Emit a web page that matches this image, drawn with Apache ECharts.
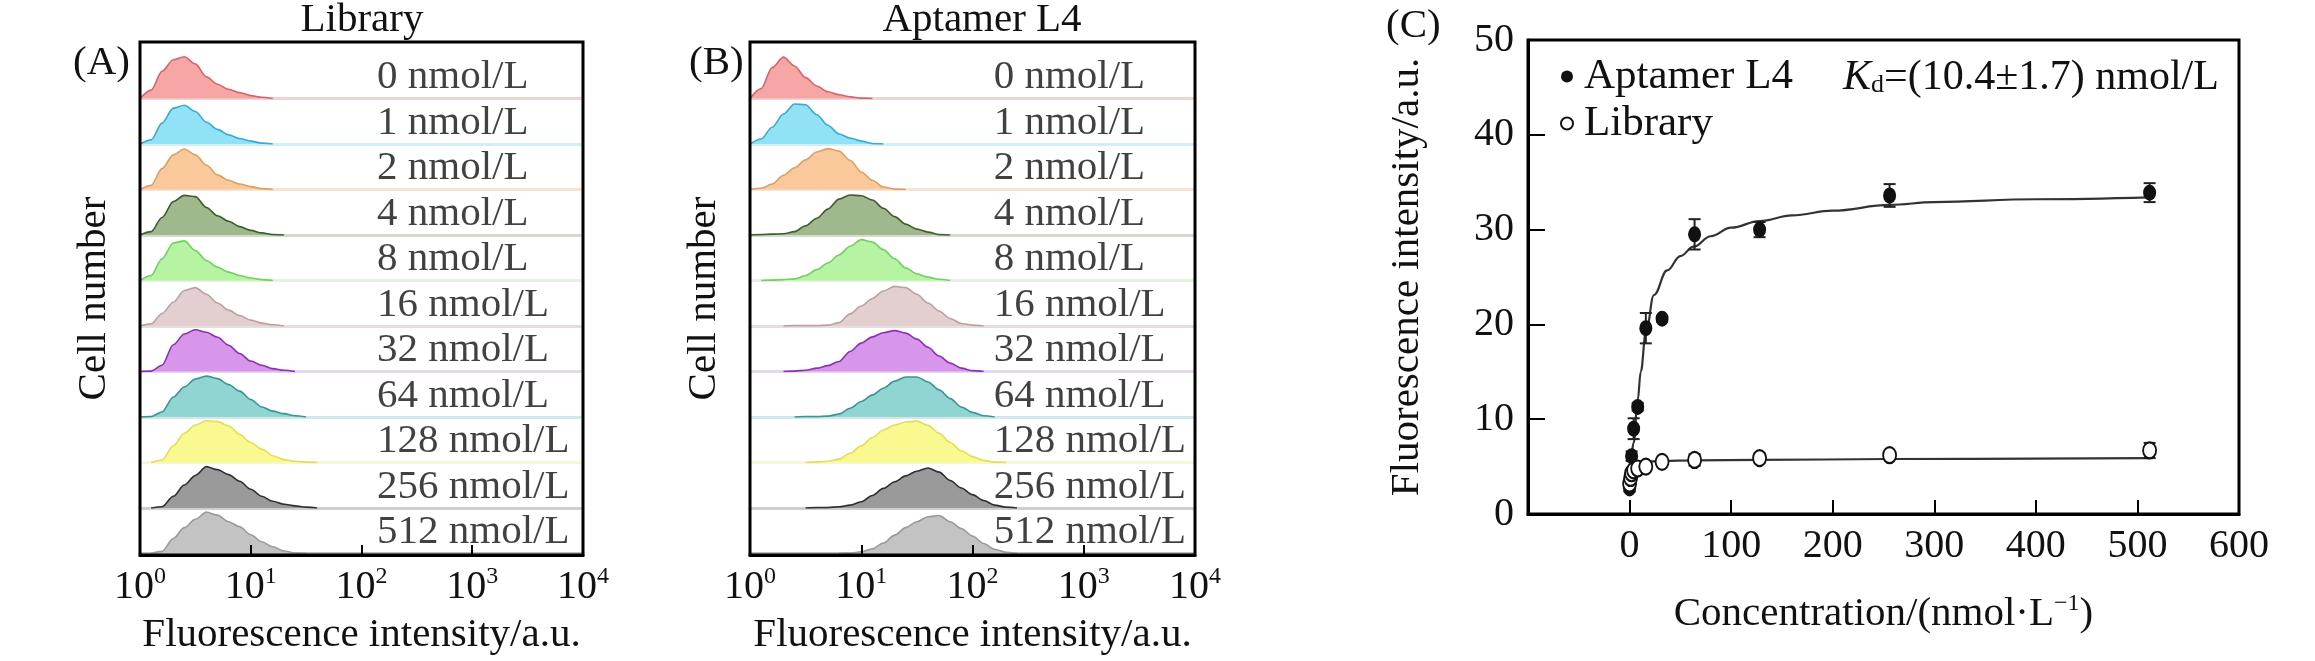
<!DOCTYPE html>
<html>
<head>
<meta charset="utf-8">
<script src="https://cdn.jsdelivr.net/npm/echarts@6/dist/echarts.min.js"></script>
<style>
html,body{margin:0;padding:0;background:#fff;}
#main{width:2315px;height:661px;}
</style>
</head>
<body>
<div id="main"></div>
<script>
// concentrations shown beside each histogram row
var concLabels = ['0 nmol/L','1 nmol/L','2 nmol/L','4 nmol/L','8 nmol/L','16 nmol/L',
                  '32 nmol/L','64 nmol/L','128 nmol/L','256 nmol/L','512 nmol/L'];

// fluorescence bin centres (10^0 ... 10^2.4, 0.1 decade steps)
var fluorBins = [1, 1.26, 1.58, 2.0, 2.51, 3.16, 3.98, 5.01, 6.31, 7.94, 10, 12.6, 15.8,
                 20.0, 25.1, 31.6, 39.8, 50.1, 63.1, 79.4, 100, 126, 158, 200, 251];

// cell counts per bin (peak = 100)
var libraryHist = [
  [0,20,65,93,100,83,52,34,22,14,7,3,0,0,0,0,0,0,0,0,0,0,0,0,0],
  [0,10,50,86,93,78,52,35,22,13,7,2,0,0,0,0,0,0,0,0,0,0,0,0,0],
  [0,10,50,83,97,83,58,35,22,13,7,2,0,0,0,0,0,0,0,0,0,0,0,0,0],
  [0,8,42,80,95,92,66,46,33,20,11,5,1,0,0,0,0,0,0,0,0,0,0,0,0],
  [0,12,52,90,95,72,48,32,20,12,6,2,0,0,0,0,0,0,0,0,0,0,0,0,0],
  [0,5,30,57,85,92,76,55,38,25,14,7,3,0,0,0,0,0,0,0,0,0,0,0,0],
  [0,1,15,64,90,100,94,82,63,43,25,15,7,3,0,0,0,0,0,0,0,0,0,0,0],
  [0,1,12,48,72,91,98,92,78,62,42,24,14,8,3,0,0,0,0,0,0,0,0,0,0],
  [0,0,6,40,70,90,100,98,88,67,48,32,16,7,3,1,0,0,0,0,0,0,0,0,0],
  [0,0,3,28,55,78,99,92,80,64,45,28,16,9,5,2,0,0,0,0,0,0,0,0,0],
  [0,0,5,36,62,82,99,92,76,64,45,28,16,6,1,0,0,0,0,0,0,0,0,0,0]
];

// cell counts per bin
var aptamerHist = [
  [0,24,74,99,78,50,30,16,9,4,1,0,0,0,0,0,0,0,0,0,0,0,0,0,0],
  [0,12,40,72,96,94,70,45,24,14,7,1,0,0,0,0,0,0,0,0,0,0,0,0,0],
  [0,3,13,34,52,71,90,98,92,70,42,22,6,1,0,0,0,0,0,0,0,0,0,0,0],
  [0,1,2,3,8,22,40,62,86,96,94,84,64,44,26,14,7,1,0,0,0,0,0,0,0],
  [0,0,1,2,4,12,26,42,61,82,98,92,74,52,30,16,8,3,0,0,0,0,0,0,0],
  [0,0,0,0,1,1,1,2,8,29,48,66,84,95,92,76,55,36,18,6,2,0,0,0,0],
  [0,0,0,0,1,3,8,14,24,48,68,83,93,98,92,78,58,37,20,8,2,0,0,0,0],
  [0,0,0,0,0,1,1,2,7,21,37,53,69,86,96,96,84,65,44,24,11,3,0,0,0],
  [0,0,0,0,0,0,1,3,8,22,40,60,78,90,97,99,89,70,48,28,14,5,1,0,0],
  [0,0,0,0,0,0,1,1,3,7,15,30,47,63,77,88,96,86,66,48,32,18,7,2,0],
  [0,0,0,0,0,0,0,0,0,1,4,11,25,44,62,76,88,91,76,60,42,24,10,3,0]
];

var fillColors = ['#f7a6a6','#92e2f7','#f9c99b','#9fb98c','#b6f3a2','#e3cfcf',
                  '#d896ea','#90d5d2','#f9f98f','#9a9a9a','#c3c3c3'];
var edgeColors = ['#d2656b','#3da9cf','#dba066','#3f5d2f','#72cf61','#b9a1a1',
                  '#8a30b2','#3a9494','#e2dd5c','#2f2f2f','#9a9a9a'];
var baseColors = ['#f1d3d3','#d3eef6','#f6e4d6','#d6d9d0','#e3f3de','#e6dddd',
                  '#e7d6ec','#d1e8ea','#f6f6d8','#cfcfcf','#bdbdbd'];

// panel C: binding curve
var concC = [0, 1, 2, 4, 8, 16, 32, 64, 128, 256, 512];
var aptamerMean = [2.7, 3.9, 6.1, 9.0, 11.3, 19.6, 20.6, 29.5, 30.0, 33.6, 33.9];
var aptamerErr  = [0.3, 0.4, 0.5, 1.1, 0.4, 1.6, 0.3, 1.6, 0.8, 1.2, 1.0];
var libraryMean = [3.2, 3.8, 4.3, 4.6, 4.8, 5.0, 5.5, 5.7, 5.9, 6.2, 6.7];
var libraryErr  = [0.3, 0.3, 0.3, 0.3, 0.3, 0.4, 0.4, 0.6, 0.5, 0.4, 0.8];
var aptamerFitX = [0, 2, 4, 8, 11, 16, 24, 37, 50, 63, 80, 100, 128, 160, 200, 256, 300, 400, 512];
var aptamerFitY = [5.7, 6.5, 7.5, 12.0, 15.0, 19.1, 23.1, 25.7, 27.2, 28.2, 29.3, 30.2, 30.9, 31.5, 32.0, 32.6, 32.9, 33.2, 33.4];
var libraryFitX = [0, 4, 8, 16, 32, 64, 128, 256, 512];
var libraryFitY = [4.2, 5.0, 5.3, 5.5, 5.6, 5.65, 5.7, 5.8, 5.9];

(function(){
    var chart = echarts.init(document.getElementById('main'));
    var FONT = 'Liberation Serif';
    var INK = '#111';

    var grids = [], xAxes = [], yAxes = [], series = [];

    function supLabel(v) {
        return '{b|10}{s|' + Math.round(Math.log10(v)) + '}';
    }

    function addHistPanel(left, width, hist, labelX) {
        var fi = grids.length;
        grids.push({left: left, top: 42, width: width, height: 513,
                    show: true, borderColor: '#000', borderWidth: 3, backgroundColor: 'transparent', z: 4});
        xAxes.push({
            gridIndex: fi, type: 'log', min: 1, max: 10000, z: 6,
            axisLine: {lineStyle: {color: '#000', width: 3}},
            axisTick: {inside: true, length: 10, lineStyle: {color: '#000', width: 2}},
            axisLabel: {margin: 10, formatter: supLabel, rich: {
                b: {fontSize: 40, fontFamily: FONT, color: INK},
                s: {fontSize: 24, fontFamily: FONT, color: INK, padding: [0, 0, 20, 0]}
            }},
            splitLine: {show: false},
            name: 'Fluorescence intensity/a.u.', nameLocation: 'middle', nameGap: 60,
            nameTextStyle: {fontSize: 41, fontFamily: FONT, color: INK}
        });
        yAxes.push({
            gridIndex: fi, type: 'value', min: 0, max: 1,
            axisLine: {show: false}, axisTick: {show: false}, axisLabel: {show: false}, splitLine: {show: false},
            name: 'Cell number', nameLocation: 'middle', nameGap: 25, nameRotate: 90,
            nameTextStyle: {fontSize: 41, fontFamily: FONT, color: INK}
        });

        for (var i = 0; i < hist.length; i++) {
            var gi = grids.length;
            grids.push({left: left, top: 53 + 45.5 * i, width: width, height: 45.5});
            xAxes.push({
                gridIndex: gi, type: 'log', min: 1, max: 10000,
                axisLine: {show: true, lineStyle: {color: baseColors[i], width: 3}},
                axisTick: {show: false}, axisLabel: {show: false}, splitLine: {show: false}
            });
            yAxes.push({gridIndex: gi, type: 'value', min: 0, max: 109, show: false});

            var c = hist[i], first = -1, last = -1, pts = [];
            for (var k = 0; k < c.length; k++) {
                if (c[k] > 0) { if (first < 0) first = k; last = k; }
            }
            for (k = Math.max(first - 1, 0); k <= Math.min(last + 1, c.length - 1); k++) {
                pts.push([fluorBins[k], c[k]]);
            }
            series.push({
                type: 'line', xAxisIndex: gi, yAxisIndex: gi, data: pts,
                smooth: 0.3, smoothMonotone: 'x', symbol: 'none', silent: true,
                lineStyle: {color: edgeColors[i], width: 1.6},
                areaStyle: {color: fillColors[i], opacity: 1}, z: 3
            });
            series.push({
                type: 'scatter', xAxisIndex: gi, yAxisIndex: gi, data: [[labelX, 50]],
                symbolSize: 0, silent: true, z: 5,
                label: {show: true, position: 'right', distance: 0, formatter: concLabels[i],
                        fontSize: 41, fontFamily: FONT, color: INK}
            });
        }
    }

    addHistPanel(140, 443, libraryHist, 138);
    addHistPanel(750, 445, aptamerHist, 155);

    // panel C
    var ci = grids.length;
    grids.push({left: 1528, top: 40, width: 711, height: 474,
                show: true, borderColor: '#000', borderWidth: 3, backgroundColor: 'transparent'});
    xAxes.push({
        gridIndex: ci, type: 'value', min: -100, max: 600, interval: 100,
        axisLine: {onZero: false, lineStyle: {color: '#000', width: 3}},
        axisTick: {inside: true, length: 14, lineStyle: {color: '#000', width: 2}},
        axisLabel: {margin: 12, fontSize: 40, fontFamily: FONT, color: INK,
                    formatter: function (v) { return v < 0 ? '' : v; }},
        splitLine: {show: false},
        name: '{n|Concentration/(nmol·L}{s|−1}{n|)}', nameLocation: 'middle', nameGap: 78,
        nameTextStyle: {rich: {
            n: {fontSize: 41, fontFamily: FONT, color: INK},
            s: {fontSize: 24, fontFamily: FONT, color: INK, padding: [0, 0, 20, 0]}
        }}
    });
    yAxes.push({
        gridIndex: ci, type: 'value', min: 0, max: 50, interval: 10,
        axisLine: {onZero: false, lineStyle: {color: '#000', width: 3}},
        axisTick: {inside: true, length: 17, lineStyle: {color: '#000', width: 2}},
        axisLabel: {margin: 14, fontSize: 40, fontFamily: FONT, color: INK},
        splitLine: {show: false},
        name: 'Fluorescence intensity/a.u.', nameLocation: 'middle', nameGap: 100, nameRotate: 90,
        nameTextStyle: {fontSize: 41, fontFamily: FONT, color: INK}
    });

    function zip(xs, ys) { return xs.map(function (x, k) { return [x, ys[k]]; }); }

    function errorBars(means, errs) {
        return {
            type: 'custom', xAxisIndex: ci, yAxisIndex: ci, silent: true, z: 3,
            data: concC.map(function (x, k) { return [x, means[k] - errs[k], means[k] + errs[k]]; }),
            encode: {x: 0, y: [1, 2]},
            renderItem: function (params, api) {
                var lo = api.coord([api.value(0), api.value(1)]);
                var hi = api.coord([api.value(0), api.value(2)]);
                var w = 6, st = {stroke: '#222', lineWidth: 2};
                return {type: 'group', children: [
                    {type: 'line', shape: {x1: lo[0], y1: lo[1], x2: hi[0], y2: hi[1]}, style: st},
                    {type: 'line', shape: {x1: lo[0] - w, y1: lo[1], x2: lo[0] + w, y2: lo[1]}, style: st},
                    {type: 'line', shape: {x1: hi[0] - w, y1: hi[1], x2: hi[0] + w, y2: hi[1]}, style: st}
                ]};
            }
        };
    }

    series.push({type: 'line', name: 'fitA', xAxisIndex: ci, yAxisIndex: ci, data: zip(aptamerFitX, aptamerFitY),
                 smooth: 0.4, smoothMonotone: 'x', symbol: 'none', silent: true, lineStyle: {color: '#333', width: 2.2}, z: 2});
    series.push({type: 'line', name: 'fitL', xAxisIndex: ci, yAxisIndex: ci, data: zip(libraryFitX, libraryFitY),
                 smooth: 0.4, smoothMonotone: 'x', symbol: 'none', silent: true, lineStyle: {color: '#333', width: 2.2}, z: 2});
    series.push(errorBars(aptamerMean, aptamerErr));
    series.push(errorBars(libraryMean, libraryErr));
    series.push({type: 'scatter', name: 'Aptamer L4', xAxisIndex: ci, yAxisIndex: ci, data: zip(concC, aptamerMean),
                 symbol: 'circle', symbolSize: [13, 16], itemStyle: {color: '#111', opacity: 1}, z: 4});
    series.push({type: 'scatter', name: 'Library', xAxisIndex: ci, yAxisIndex: ci, data: zip(concC, libraryMean),
                 symbol: 'emptyCircle', symbolSize: [13, 16], itemStyle: {color: '#111', borderWidth: 2.5, opacity: 1}, z: 5});

    var titleStyle = {fontSize: 41, fontFamily: FONT, color: INK, fontWeight: 'normal'};
    var option = {
        animation: false,
        backgroundColor: '#fff',
        title: [
            {text: 'Library', left: 357, top: -5, textAlign: 'center', textStyle: titleStyle},
            {text: 'Aptamer L4', left: 977, top: -5, textAlign: 'center', textStyle: titleStyle},
            {text: '(A)', left: 68, top: 38, textStyle: titleStyle},
            {text: '(B)', left: 684, top: 38, textStyle: titleStyle},
            {text: '(C)', left: 1381, top: 1, textStyle: titleStyle},
            {text: '{k|K}{d|d}{n|=(10.4±1.7) nmol/L}', left: 1838, top: 52, textStyle: {fontWeight: 'normal', rich: {
                k: {fontSize: 42, fontFamily: FONT, fontStyle: 'italic', fontWeight: 'normal', color: INK},
                d: {fontSize: 26, fontFamily: FONT, fontWeight: 'normal', color: INK, padding: [14, 0, 0, 0]},
                n: {fontSize: 42, fontFamily: FONT, fontWeight: 'normal', color: INK}
            }}}
        ],
        legend: {
            orient: 'vertical', left: 1555, top: 50, itemWidth: 12, itemHeight: 16, itemGap: 4,
            textStyle: {fontSize: 43, lineHeight: 38, fontFamily: FONT, color: INK, padding: [0, 0, 0, 6]},
            data: [{name: 'Aptamer L4', icon: 'circle'}, {name: 'Library', icon: 'emptyCircle'}]
        },
        grid: grids,
        xAxis: xAxes,
        yAxis: yAxes,
        series: series
    };
    chart.setOption(option);
})();
</script>
</body>
</html>
